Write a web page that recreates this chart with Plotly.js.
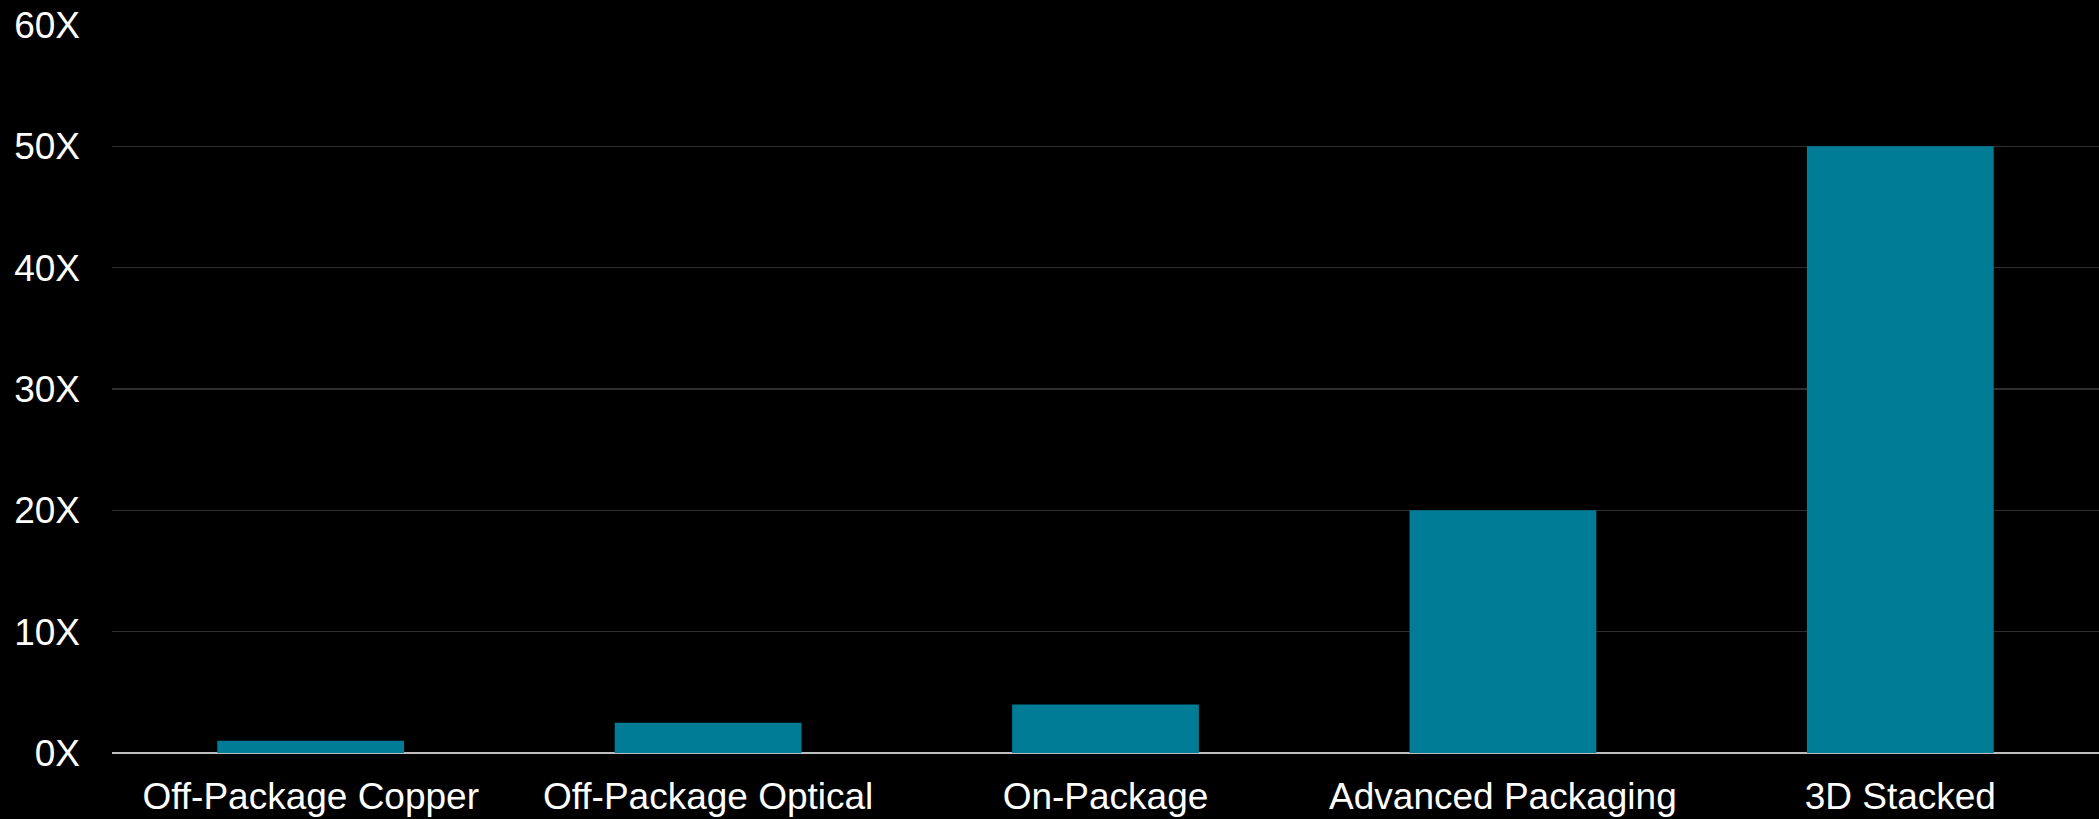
<!DOCTYPE html>
<html>
<head>
<meta charset="utf-8">
<script src="https://cdn.plot.ly/plotly-3.0.1.min.js"></script>
<style>
html,body{margin:0;padding:0;background:#000;}
#chart{width:2099px;height:819px;}
</style>
</head>
<body>
<div id="chart"></div>
<script>
const categories = ["Off-Package Copper", "Off-Package Optical", "On-Package", "Advanced Packaging", "3D Stacked"];
const values = [1, 2.5, 4, 20, 50];
const tickVals = [0, 10, 20, 30, 40, 50, 60];
const tickText = ["0X", "10X", "20X", "30X", "40X", "50X", "60X"];

const trace = {
  type: "bar",
  x: categories,
  y: values,
  marker: {color: "#007C96", line: {width: 0}},
  hoverinfo: "x+y"
};

const layout = {
  width: 2099,
  height: 819,
  paper_bgcolor: "#000",
  plot_bgcolor: "#000",
  margin: {l: 112, r: 0, t: 24.5, b: 65.5, pad: 0},
  bargap: 0.53,
  showlegend: false,
  font: {family: "Liberation Sans, Arial, sans-serif", color: "#ffffff", size: 37},
  xaxis: {
    type: "category",
    showgrid: false,
    showline: false,
    zeroline: false,
    ticks: "",
    ticklabelstandoff: 18,
    tickfont: {size: 37, color: "#ffffff"},
    automargin: false,
    fixedrange: true
  },
  yaxis: {
    range: [0, 60],
    tickvals: tickVals,
    ticktext: tickText,
    showgrid: true,
    gridcolor: "#2e2e2e",
    gridwidth: 1.5,
    zeroline: true,
    zerolinecolor: "#bdbdbd",
    zerolinewidth: 2,
    showline: false,
    ticks: "",
    ticklabelstandoff: 31,
    tickfont: {size: 37, color: "#ffffff"},
    automargin: false,
    fixedrange: true
  }
};

Plotly.newPlot("chart", [trace], layout, {displayModeBar: false, staticPlot: true});
</script>
</body>
</html>
